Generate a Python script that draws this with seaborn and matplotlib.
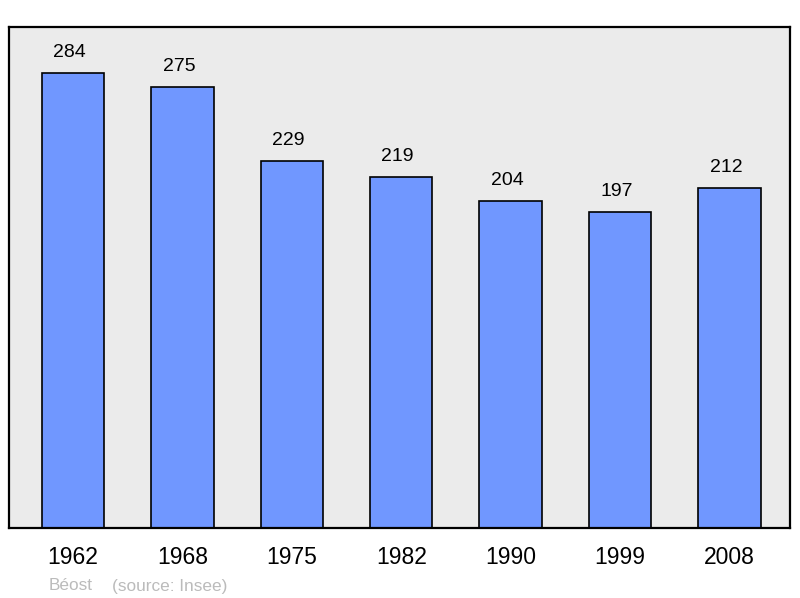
import matplotlib
matplotlib.use("Agg")
import matplotlib.pyplot as plt
import seaborn as sns
import pandas as pd

years = ["1962", "1968", "1975", "1982", "1990", "1999", "2008"]
population = [284, 275, 229, 219, 204, 197, 212]

sns.set_style("white")
plt.rcParams['font.family'] = ['Liberation Sans', 'DejaVu Sans']

df = pd.DataFrame({"year": years, "pop": population})

fig = plt.figure(figsize=(8, 5.98), dpi=100)
ax = fig.add_axes([9 / 800, 70 / 598, 781 / 800, 501 / 598])
ax.set_facecolor("#ebebeb")

sns.barplot(data=df, x="year", y="pop", color="#7097ff", saturation=1,
            width=0.57, edgecolor="black", linewidth=1.2, ax=ax)

for i, v in enumerate(population):
    ax.annotate(str(v), (i, v), xytext=(-2.5, 15), textcoords="offset points",
                ha="center", va="center", fontsize=14, color="black")

ax.set_xlim(-0.585, 6.554)
ax.set_ylim(0, 312.7)
ax.set_yticks([])
ax.set_xlabel("")
ax.set_ylabel("")
ax.tick_params(axis="x", length=0, pad=13, labelsize=16.5, labelcolor="black")
for s in ax.spines.values():
    s.set_linewidth(1.6)
    s.set_color("black")

fig.text(49 / 800, 1 - 586 / 598, "Béost", color="#bbbbbb", fontsize=12.4, va="center")
fig.text(112 / 800, 1 - 586 / 598, "(source: Insee)", color="#bbbbbb", fontsize=12.4, va="center")

fig.savefig("out.png", dpi=100)
